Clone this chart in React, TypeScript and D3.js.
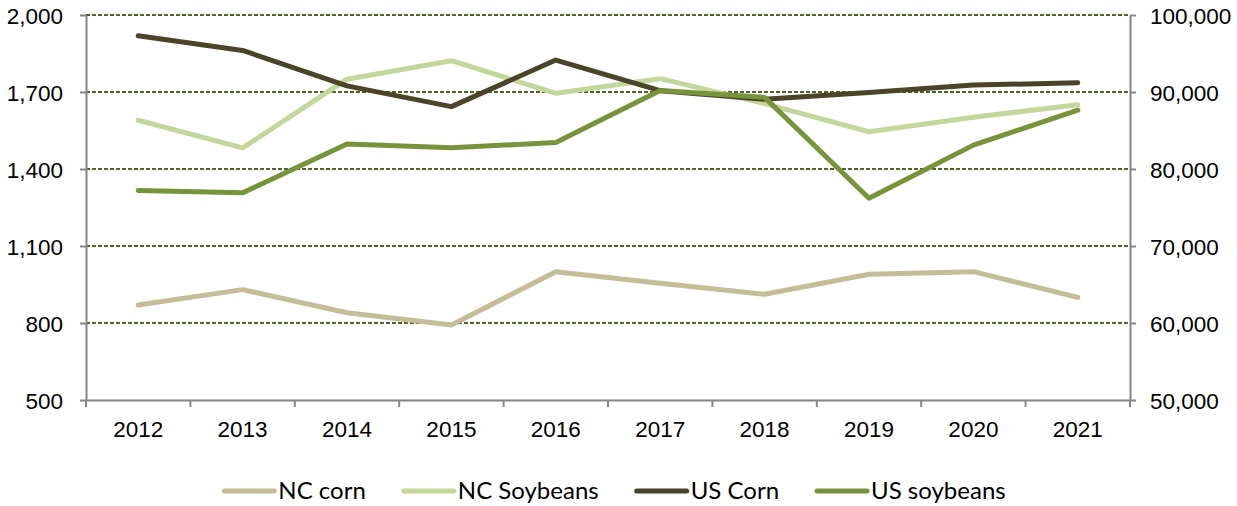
import React, { useEffect, useRef } from "react";
import * as d3 from "d3";

const years = ["2012", "2013", "2014", "2015", "2016", "2017", "2018", "2019", "2020", "2021"];
// NC series read on the left axis, US series on the right axis
const ncCorn = [870, 930, 840, 792, 1000, 955, 912, 990, 1000, 900];
const ncSoybeans = [1590, 1482, 1750, 1822, 1695, 1752, 1655, 1545, 1602, 1650];
const usCorn = [97300, 95400, 90800, 88100, 94150, 90170, 89050, 89950, 90900, 91200];
const usSoybeans = [77200, 76900, 83250, 82750, 83450, 90200, 89300, 76200, 83100, 87650];

const leftTicks = [500, 800, 1100, 1400, 1700, 2000];
const rightTicks = [50000, 60000, 70000, 80000, 90000, 100000];

const seriesNames = ["NC corn", "NC Soybeans", "US Corn", "US soybeans"];
const seriesColors = ["#C4BD97", "#C3D69B", "#4A452A", "#77933C"];

export default function App() {
  const svgRef = useRef<SVGSVGElement>(null);

  useEffect(() => {
    const svg = d3.select(svgRef.current);
    svg.selectAll("*").remove();

    const left = 86;
    const right = 1130;
    const top = 15;
    const bottom = 400;
    const axisColor = "#868686";
    const tickFont = "Arial, 'Liberation Sans', 'DejaVu Sans', sans-serif";

    const x = d3.scaleBand().domain(years).range([left, right]);
    const yLeft = d3.scaleLinear().domain([500, 2000]).range([bottom, top]);
    const yRight = d3.scaleLinear().domain([50000, 100000]).range([bottom, top]);
    const fmt = d3.format(",");

    // gridlines
    svg
      .append("g")
      .selectAll("line")
      .data(leftTicks.filter((d) => d !== 500))
      .enter()
      .append("line")
      .attr("x1", left)
      .attr("x2", right)
      .attr("y1", (d) => Math.round(yLeft(d)))
      .attr("y2", (d) => Math.round(yLeft(d)))
      .attr("stroke", "#4F6228")
      .attr("stroke-width", 2)
      .attr("stroke-dasharray", "4,2");

    // left axis
    const gl = svg
      .append("g")
      .attr("transform", `translate(${left},0)`)
      .call(
        d3.axisLeft(yLeft).tickValues(leftTicks).tickFormat((d) => fmt(d as number)).tickSize(6).tickSizeOuter(0).tickPadding(17)
      );

    // right axis
    const gr = svg
      .append("g")
      .attr("transform", `translate(${right},0)`)
      .call(
        d3.axisRight(yRight).tickValues(rightTicks).tickFormat((d) => fmt(d as number)).tickSize(6).tickSizeOuter(0).tickPadding(14)
      );

    // bottom axis: labels at band centers, tick marks at band edges
    const gb = svg
      .append("g")
      .attr("transform", `translate(0,${bottom})`)
      .call(d3.axisBottom(x).tickSize(0).tickSizeOuter(0));
    gb.selectAll(".tick text").attr("y", 37).attr("dy", 0);
    gb.selectAll("line.edge")
      .data([...years.map((d) => x(d) as number), right])
      .enter()
      .append("line")
      .attr("class", "edge")
      .attr("x1", (d) => d)
      .attr("x2", (d) => d)
      .attr("y1", 0)
      .attr("y2", 7)
      .attr("stroke", axisColor)
      .attr("stroke-width", 2);

    [gl, gr, gb].forEach((g) => {
      g.attr("font-family", tickFont);
      g.select(".domain").attr("stroke", axisColor).attr("stroke-width", 2);
      g.selectAll(".tick line").attr("stroke", axisColor).attr("stroke-width", 2);
      g.selectAll("text")
        .attr("fill", "#000")
        .style("font-family", tickFont)
        .style("font-size", "22.5px");
    });
    gl.selectAll(".tick text").attr("dy", "0.36em");
    gr.selectAll(".tick text").attr("dy", "0.36em");

    // series
    const series = [
      { values: ncCorn, y: yLeft },
      { values: ncSoybeans, y: yLeft },
      { values: usCorn, y: yRight },
      { values: usSoybeans, y: yRight },
    ];
    const half = x.bandwidth() / 2;
    series.forEach((s, i) => {
      const line = d3
        .line<number>()
        .x((_, j) => (x(years[j]) as number) + half)
        .y((d) => s.y(d));
      svg
        .append("path")
        .attr("d", line(s.values))
        .attr("fill", "none")
        .attr("stroke", seriesColors[i])
        .attr("stroke-width", 5)
        .attr("stroke-linecap", "round")
        .attr("stroke-linejoin", "round");
    });

    // legend
    const legend = svg.append("g");
    const legendY = 491;
    let cx = 0;
    seriesNames.forEach((name, i) => {
      const item = legend.append("g").attr("transform", `translate(${cx},0)`);
      item
        .append("line")
        .attr("x1", 2)
        .attr("x2", 52)
        .attr("y1", legendY)
        .attr("y2", legendY)
        .attr("stroke", seriesColors[i])
        .attr("stroke-width", 5)
        .attr("stroke-linecap", "round");
      const t = item
        .append("text")
        .attr("x", 56)
        .attr("y", legendY)
        .attr("dy", "0.35em")
        .attr("fill", "#000")
        .style("font-family", "Lato, 'Open Sans', sans-serif")
        .style("font-size", "24px")
        .text(name);
      const w = (t.node() as SVGTextElement).getComputedTextLength();
      cx += 56 + w + 36;
    });
    const total = cx - 36;
    legend.attr("transform", `translate(${614 - total / 2},0)`);
  }, []);

  return (
    <svg
      ref={svgRef}
      width={1237}
      height={506}
      style={{ position: "absolute", left: 0, top: 0, background: "#fff" }}
    />
  );
}
